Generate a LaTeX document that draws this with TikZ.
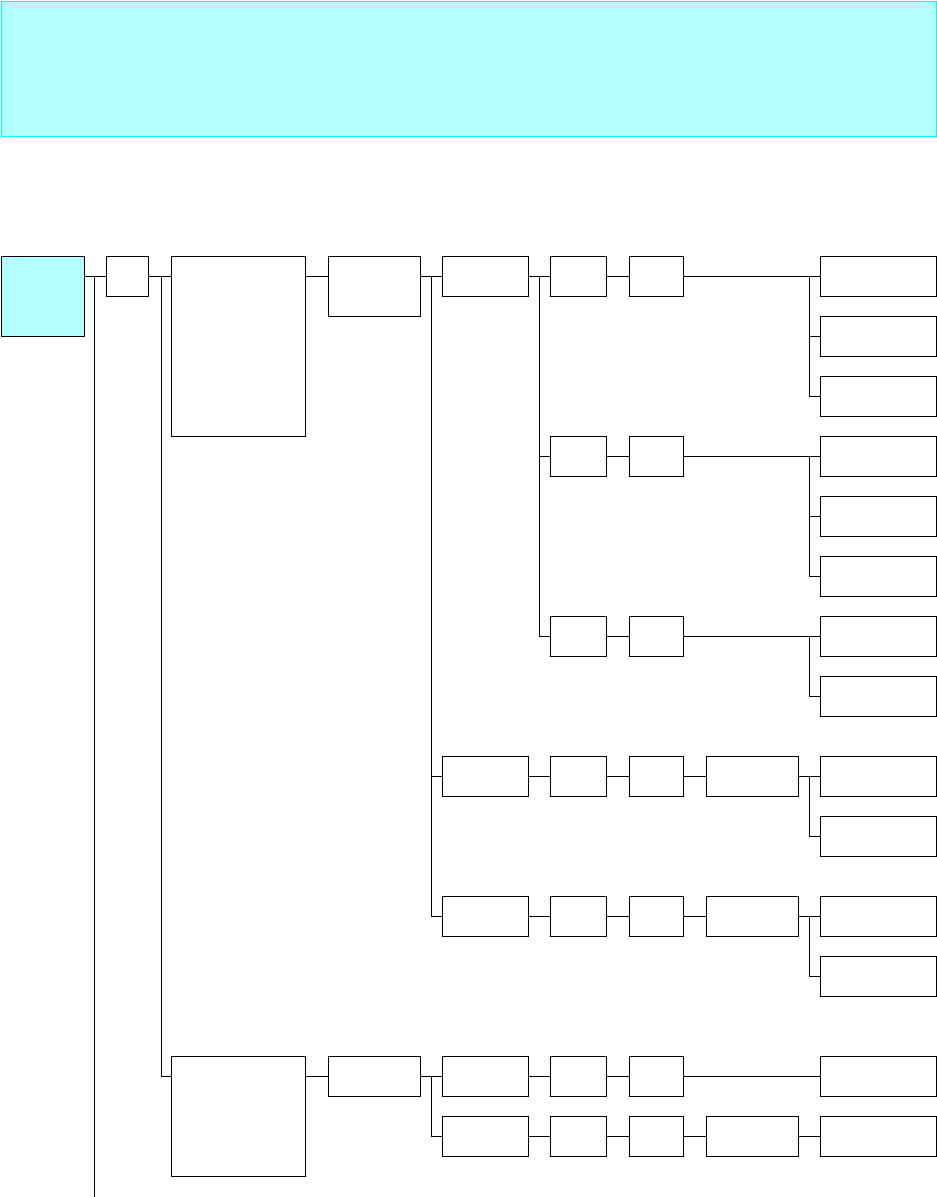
\documentclass[tikz,border=0pt]{standalone}
\usetikzlibrary{positioning,calc}
\definecolor{aqua}{HTML}{00FFFF}
\definecolor{paleaqua}{HTML}{B3FFFF}
\tikzset{
  box/.style={draw, line width=1pt, inner sep=0pt, anchor=north west,
              minimum height=40pt},
  nbox/.style={box, minimum width=56pt},
  mbox/.style={box, minimum width=86pt},
  wbox/.style={box, minimum width=92pt},
  leaf/.style={box, minimum width=116pt},
  link/.style={line width=1pt}
}
\begin{document}
\begin{tikzpicture}[x=1pt,y=-1pt]
  \useasboundingbox (0,0) rectangle (937,1197);
  \node[box, draw=aqua, fill=paleaqua, minimum width=935pt, minimum height=135pt] (banner) at (0.5,0.5) {};
  % left spine
  \node[box, fill=paleaqua, minimum width=83pt, minimum height=80pt] (root) at (0.5,256) {};
  \node[box, minimum width=42pt] (n1) at (106,256) {};
  \node[box, minimum width=134pt, minimum height=180pt] (n2) at (171,256) {};
  \node[wbox, minimum height=60pt] (n3) at (328,256) {};
  \coordinate (rootend) at (94,1197);
  % upper branch
  \node[mbox] (n4) at (442,256) {};
  \node[nbox] (n5) at (550,256) {};
  \node[nbox, minimum width=54pt] (n6) at (629,256) {};
  \node[nbox] (n7) at (550,436) {};
  \node[nbox, minimum width=54pt] (n8) at (629,436) {};
  \node[nbox] (n9) at (550,616) {};
  \node[nbox, minimum width=54pt] (n10) at (629,616) {};
  \node[leaf] (l1) at (820,256) {};
  \node[leaf] (l2) at (820,316) {};
  \node[leaf] (l3) at (820,376) {};
  \node[leaf] (l4) at (820,436) {};
  \node[leaf] (l5) at (820,496) {};
  \node[leaf] (l6) at (820,556) {};
  \node[leaf] (l7) at (820,616) {};
  \node[leaf] (l8) at (820,676) {};
  % middle rows
  \node[mbox] (m1) at (442,756) {};
  \node[nbox] (m2) at (550,756) {};
  \node[nbox, minimum width=54pt] (m3) at (629,756) {};
  \node[wbox] (m4) at (706,756) {};
  \node[leaf] (l9) at (820,756) {};
  \node[leaf] (l10) at (820,816) {};
  \node[mbox] (k1) at (442,896) {};
  \node[nbox] (k2) at (550,896) {};
  \node[nbox, minimum width=54pt] (k3) at (629,896) {};
  \node[wbox] (k4) at (706,896) {};
  \node[leaf] (l11) at (820,896) {};
  \node[leaf] (l12) at (820,956) {};
  % lower branch
  \node[box, minimum width=134pt, minimum height=120pt] (p1) at (171,1056) {};
  \node[wbox] (p2) at (328,1056) {};
  \node[mbox] (p3) at (442,1056) {};
  \node[nbox] (p4) at (550,1056) {};
  \node[nbox, minimum width=54pt] (p5) at (629,1056) {};
  \node[leaf] (l13) at (820,1056) {};
  \node[mbox] (p6) at (442,1116) {};
  \node[nbox] (p7) at (550,1116) {};
  \node[nbox, minimum width=54pt] (p8) at (629,1116) {};
  \node[wbox] (p9) at (706,1116) {};
  \node[leaf] (l14) at (820,1116) {};

  \draw[link] (n1.west -| root.east) -- (n1.west);
  \draw[link] (rootend |- n1.west) -- (rootend);
  \draw[link] (n1.east) -- (n1.east -| n2.west);
  \draw[link] ([xshift=12pt]n1.east) |- (p2.west -| p1.west);
  \draw[link] (n2.east |- n1.east) -- (n3.west |- n1.east);
  \draw[link] (n3.east |- n4.west) -- (n4.west);
  \foreach \t in {m1,k1}
    \draw[link] ([xshift=-11pt]n4.west) |- (\t.west);
  \draw[link] (n4) -- (n5);
  \foreach \t in {n7,n9}
    \draw[link] ([xshift=-11pt]n5.west) |- (\t.west);
  \draw[link] (n5) -- (n6);
  \draw[link] (n7) -- (n8);
  \draw[link] (n9) -- (n10);
  \draw[link] (n6) -- (l1);
  \draw[link] (n8) -- (l4);
  \draw[link] (n10) -- (l7);
  \foreach \s/\t in {l1/l2,l1/l3,l4/l5,l4/l6,l7/l8,l9/l10,l11/l12}
    \draw[link] ([xshift=-11pt]\s.west) |- (\t.west);
  \draw[link] (m1) -- (m2) -- (m3) -- (m4) -- (l9);
  \draw[link] (k1) -- (k2) -- (k3) -- (k4) -- (l11);
  \draw[link] (p2.west -| p1.east) -- (p2.west);
  \draw[link] (p2) -- (p3);
  \draw[link] ([xshift=-11pt]p3.west) |- (p6.west);
  \draw[link] (p3) -- (p4) -- (p5) -- (l13);
  \draw[link] (p6) -- (p7) -- (p8) -- (p9) -- (l14);
\end{tikzpicture}
\end{document}
